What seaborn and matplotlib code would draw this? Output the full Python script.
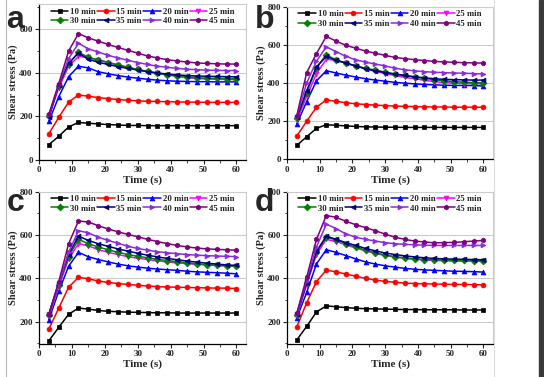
import matplotlib
matplotlib.use("Agg")
import matplotlib.pyplot as plt
import seaborn as sns
from matplotlib.lines import Line2D
from matplotlib.ticker import MultipleLocator

# time points (s)
time = [3, 6, 9, 12, 15, 18, 21, 24, 27, 30, 33, 36, 39, 42, 45, 48, 51, 54, 57, 60]
labels = ["10 min", "15 min", "20 min", "25 min", "30 min", "35 min", "40 min", "45 min"]
colors = ["#000000", "#ff0000", "#0000ff", "#ff00ff", "#008000", "#000080", "#8a2be2", "#800080"]
markers = ["s", "o", "^", "v", "D", "<", ">", "h"]

# panel a
a10 = [70, 108, 151, 172, 168, 165, 162, 160, 158, 158, 157, 157, 157, 157, 157, 157, 157, 157, 157, 157]
a15 = [120, 195, 265, 298, 292, 286, 281, 277, 274, 271, 269, 268, 267, 266, 265, 265, 264, 264, 264, 264]
a20 = [177, 290, 382, 430, 422, 405, 395, 387, 380, 375, 370, 366, 363, 361, 360, 359, 359, 358, 358, 358]
a25 = [200, 330, 430, 475, 470, 458, 447, 437, 425, 415, 405, 397, 390, 384, 378, 374, 371, 370, 369, 369]
a30 = [200, 340, 440, 495, 470, 460, 447, 435, 425, 415, 406, 398, 390, 385, 380, 377, 375, 374, 373, 372]
a35 = [195, 345, 445, 490, 462, 448, 438, 428, 420, 412, 405, 399, 394, 390, 387, 385, 384, 383, 382, 381]
a40 = [205, 345, 465, 535, 510, 495, 480, 468, 457, 447, 438, 430, 425, 420, 416, 414, 412, 411, 410, 410]
a45 = [210, 350, 500, 580, 560, 545, 530, 516, 503, 490, 477, 468, 460, 454, 449, 445, 443, 441, 440, 440]

# panel b
b10 = [74, 119, 163, 182, 179, 176, 173, 171, 170, 169, 169, 168, 168, 168, 168, 168, 168, 168, 168, 168]
b15 = [123, 200, 274, 312, 305, 297, 292, 288, 285, 282, 280, 278, 277, 276, 275, 275, 274, 274, 274, 274]
b20 = [186, 303, 412, 465, 453, 442, 432, 423, 416, 410, 404, 400, 396, 393, 391, 389, 388, 388, 387, 385]
b25 = [205, 330, 450, 525, 520, 505, 490, 475, 462, 450, 440, 430, 423, 415, 408, 403, 400, 398, 397, 396]
b30 = [215, 350, 480, 550, 520, 505, 490, 478, 468, 458, 448, 440, 432, 425, 418, 412, 408, 405, 403, 402]
b35 = [220, 360, 485, 540, 520, 505, 490, 475, 465, 455, 447, 440, 433, 428, 423, 420, 418, 417, 416, 416]
b40 = [225, 400, 515, 590, 565, 540, 522, 510, 500, 490, 478, 470, 464, 460, 457, 455, 453, 452, 450, 448]
b45 = [230, 455, 555, 645, 620, 598, 583, 568, 557, 545, 535, 528, 523, 518, 514, 511, 509, 507, 506, 505]

# panel c
c10 = [112, 174, 234, 263, 258, 252, 248, 246, 244, 243, 242, 241, 241, 240, 240, 240, 240, 240, 240, 240]
c15 = [166, 263, 359, 405, 398, 388, 381, 376, 372, 368, 365, 362, 360, 359, 358, 357, 356, 355, 355, 353]
c20 = [210, 340, 456, 520, 500, 487, 476, 466, 458, 452, 447, 443, 440, 437, 433, 430, 428, 426, 424, 421]
c25 = [225, 360, 490, 560, 550, 533, 520, 510, 500, 493, 487, 481, 476, 472, 468, 465, 462, 460, 458, 456]
c30 = [230, 370, 500, 580, 560, 545, 532, 520, 510, 502, 495, 488, 482, 477, 472, 467, 463, 460, 458, 456]
c35 = [235, 380, 510, 595, 575, 560, 548, 536, 526, 516, 507, 499, 492, 486, 480, 475, 470, 466, 462, 460]
c40 = [235, 375, 520, 620, 610, 590, 575, 562, 548, 538, 530, 523, 518, 514, 510, 507, 505, 503, 502, 500]
c45 = [235, 385, 560, 665, 660, 643, 628, 615, 603, 592, 580, 570, 560, 552, 545, 540, 536, 534, 532, 530]

# panel d
d10 = [116, 178, 245, 273, 269, 265, 262, 260, 259, 258, 257, 256, 256, 255, 255, 255, 255, 254, 254, 254]
d15 = [177, 287, 385, 438, 430, 420, 410, 400, 392, 386, 382, 378, 376, 375, 374, 373, 372, 372, 371, 370]
d20 = [217, 335, 467, 532, 520, 505, 490, 476, 466, 458, 452, 446, 442, 439, 437, 435, 433, 432, 431, 429]
d25 = [225, 370, 510, 580, 570, 555, 540, 527, 515, 505, 498, 492, 488, 485, 483, 481, 480, 480, 480, 479]
d30 = [230, 380, 520, 590, 578, 560, 545, 530, 518, 508, 500, 495, 490, 487, 485, 484, 483, 483, 482, 482]
d35 = [235, 380, 525, 595, 580, 565, 552, 538, 527, 517, 510, 504, 499, 495, 492, 490, 489, 488, 487, 486]
d40 = [235, 390, 545, 650, 630, 605, 590, 580, 572, 565, 560, 557, 555, 553, 552, 552, 552, 552, 552, 552]
d45 = [240, 405, 580, 690, 682, 663, 648, 634, 620, 604, 590, 580, 572, 568, 564, 565, 566, 569, 572, 575]

panels = [
    ("a", [a10, a15, a20, a25, a30, a35, a40, a45], (0, 715), [0, 200, 400, 600]),
    ("b", [b10, b15, b20, b25, b30, b35, b40, b45], (0, 800), [0, 200, 400, 600, 800]),
    ("c", [c10, c15, c20, c25, c30, c35, c40, c45], (97, 800), [200, 400, 600, 800]),
    ("d", [d10, d15, d20, d25, d30, d35, d40, d45], (97, 800), [200, 400, 600, 800]),
]
boxes = [
    [0.0717, 0.576, 0.381, 0.413],
    [0.5276, 0.577, 0.379, 0.405],
    [0.0717, 0.0875, 0.381, 0.404],
    [0.5276, 0.0875, 0.379, 0.404],
]
letter_pos = [(0.012, 0.925), (0.468, 0.925), (0.012, 0.44), (0.468, 0.44)]
# legend fills column by column; this order gives rows 10-25 / 30-45
legend_order = [0, 4, 1, 5, 2, 6, 3, 7]

sns.set_style("white")
plt.rcParams["font.family"] = ["Liberation Serif", "DejaVu Serif"]
plt.rcParams["font.weight"] = "bold"

fig = plt.figure(figsize=(5.44, 3.77), dpi=100)
fig.patch.set_facecolor("white")

for (name, series, ylim, yticks), box, lp in zip(panels, boxes, letter_pos):
    ax = fig.add_axes(box)
    for vals, lab, col, mk in zip(series, labels, colors, markers):
        sns.lineplot(x=time, y=vals, ax=ax, color=col, marker=mk, markersize=3.5,
                     markeredgecolor=col, markeredgewidth=0.5, linewidth=1.1, label=lab)
    ax.set_xlim(0, 63)
    ax.set_ylim(*ylim)
    ax.set_xticks([0, 10, 20, 30, 40, 50, 60])
    ax.set_yticks(yticks)
    ax.xaxis.set_minor_locator(MultipleLocator(5))
    ax.yaxis.set_minor_locator(MultipleLocator(100))
    ax.grid(axis="y", which="major", color="#cccccc", linewidth=0.8)
    ax.set_axisbelow(True)
    ax.tick_params(axis="both", which="major", direction="out", length=3, width=0.8,
                   labelsize=6.5, pad=1.5, bottom=True, left=True)
    ax.tick_params(axis="both", which="minor", direction="out", length=1.8, width=0.6,
                   bottom=True, left=True)
    for lbl in ax.get_xticklabels() + ax.get_yticklabels():
        lbl.set_fontweight("bold")
    for s in ["left", "bottom"]:
        ax.spines[s].set_color("black")
        ax.spines[s].set_linewidth(0.9)
    for s in ["top", "right"]:
        ax.spines[s].set_color("#cccccc")
        ax.spines[s].set_linewidth(0.8)
    ax.set_xlabel("Time (s)", fontsize=8, fontweight="bold", labelpad=1)
    ax.set_ylabel("Shear stress (Pa)", fontsize=7.5, fontweight="bold", labelpad=1)
    handles, labs = ax.get_legend_handles_labels()
    ax.legend([handles[i] for i in legend_order], [labs[i] for i in legend_order],
              loc="upper center", ncol=4, frameon=False,
              handlelength=2.0, handletextpad=0.2, columnspacing=0.15,
              labelspacing=0.12, borderaxespad=0.2, borderpad=0.2,
              prop={"weight": "bold", "size": 6.3})
    fig.text(lp[0], lp[1], name, fontsize=23, fontweight="bold",
             family=["Liberation Sans", "DejaVu Sans"], ha="left", va="baseline")

# screenshot borders
fig.add_artist(Line2D([6 / 544, 6 / 544], [0, 1], color="#bbbbbb", linewidth=0.8))
fig.add_artist(Line2D([494 / 544, 494 / 544], [0, 1], color="#dddddd", linewidth=0.8))
fig.add_artist(plt.Rectangle((539 / 544, 0), 5 / 544, 1, color="#3a3a3a",
                             transform=fig.transFigure))

fig.savefig("out.png", dpi=100)
